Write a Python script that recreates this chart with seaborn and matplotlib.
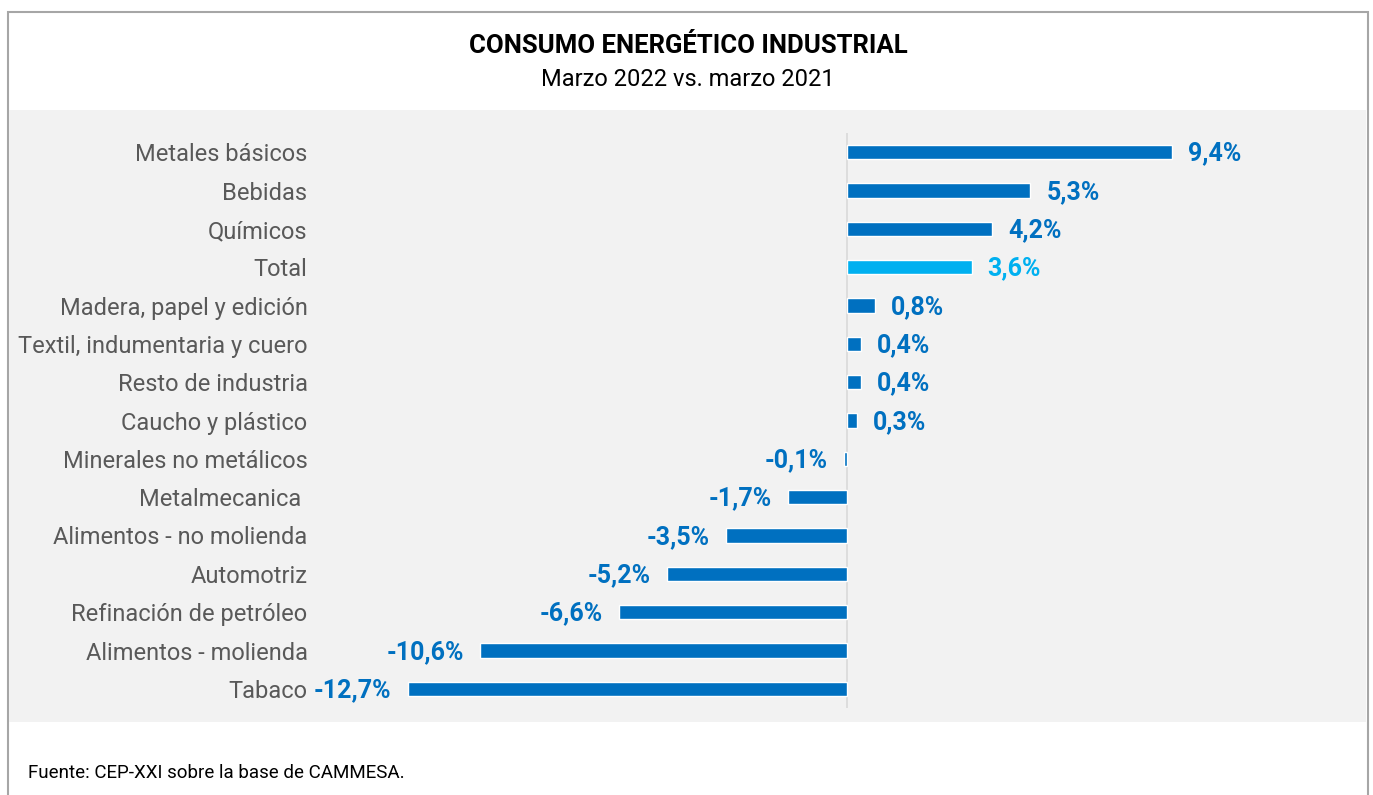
import matplotlib
matplotlib.use("Agg")
import matplotlib.pyplot as plt
import seaborn as sns
import pandas as pd
from matplotlib.patches import Rectangle

# chart data
categories = ["Metales básicos", "Bebidas", "Químicos", "Total",
              "Madera, papel y edición", "Textil, indumentaria y cuero",
              "Resto de industria", "Caucho y plástico",
              "Minerales no metálicos", "Metalmecanica ",
              "Alimentos - no molienda", "Automotriz",
              "Refinación de petróleo", "Alimentos - molienda", "Tabaco"]
values = [9.4, 5.3, 4.2, 3.6, 0.8, 0.4, 0.4, 0.3, -0.1, -1.7, -3.5, -5.2, -6.6, -10.6, -12.7]
title = "CONSUMO ENERGÉTICO INDUSTRIAL"
subtitle = "Marzo 2022 vs. marzo 2021"
source = "Fuente: CEP-XXI sobre la base de CAMMESA."

blue = "#0070C0"
light = "#00B0F0"
colors = [light if c == "Total" else blue for c in categories]

df = pd.DataFrame({"cat": categories, "val": values})

sns.set_theme(style="white")
plt.rcParams["font.family"] = ["Roboto", "DejaVu Sans"]

W, H = 1373, 795
fig = plt.figure(figsize=(W / 100, H / 100), dpi=100)

# outer frame and grey panel (behind the axes)
fig.patches.append(Rectangle((8 / W, -0.02), 1360 / W, (H - 12) / H + 0.02, transform=fig.transFigure,
                             fill=False, edgecolor="#A6A6A6", linewidth=1.5, zorder=-2))
fig.patches.append(Rectangle((9 / W, (H - 722) / H), 1357 / W, 612 / H, transform=fig.transFigure,
                             facecolor="#F2F2F2", edgecolor="none", zorder=-1))

ax = fig.add_axes([320 / W, (H - 708) / H, (1366 - 320) / W, 575 / H])
ax.set_facecolor("none")

sns.barplot(data=df, y="cat", x="val", hue="cat", palette=colors, legend=False,
            orient="h", width=0.37, saturation=1, ax=ax)

px = 34.6  # pixels per unit
ax.set_xlim((320 - 847) / px, (1366 - 847) / px)
ax.set_ylim(len(categories) - 0.5, -0.5)
ax.axvline(0, color="#D9D9D9", linewidth=1.2, zorder=0)

for i, (v, c) in enumerate(zip(values, colors)):
    txt = f"{v:.1f}".replace(".", ",") + "%"
    off = 11.5 if v >= 0 else -11.5
    ax.annotate(txt, (v, i), xytext=(off, -1), textcoords="offset points",
                ha="left" if v >= 0 else "right", va="center",
                fontsize=18, fontweight="bold", color=c)

ax.set_xticks([])
ax.set_xlabel("")
ax.set_ylabel("")
ax.tick_params(axis="y", length=0, pad=9, labelsize=17, labelcolor="#595959")
for s in ax.spines.values():
    s.set_visible(False)

fig.text(688 / W, 1 - 46 / H, title, ha="center", va="center", fontsize=18.5,
         fontweight="bold", color="black")
fig.text(688 / W, 1 - 80 / H, subtitle, ha="center", va="center", fontsize=17,
         color="black")
fig.text(28 / W, 1 - 773 / H, source, ha="left", va="center", fontsize=13.5,
         color="black")

fig.savefig("out.png", dpi=100)
